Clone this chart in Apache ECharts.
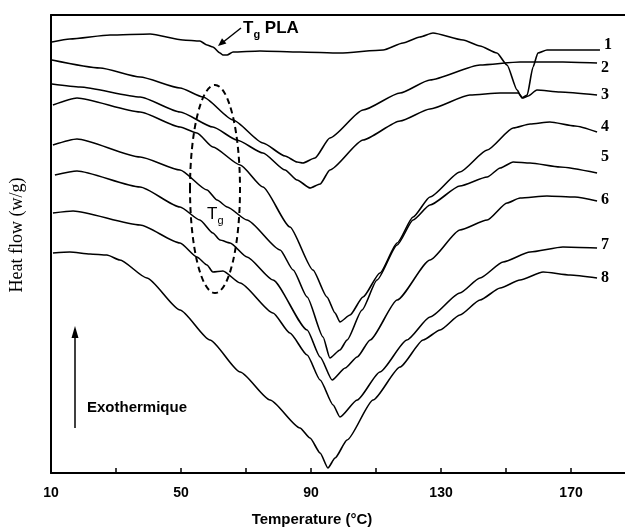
<!DOCTYPE html>
<html>
<head>
<meta charset="utf-8">
<script src="https://cdn.jsdelivr.net/npm/echarts@6/dist/echarts.min.js"></script>
<style>
  html, body { margin: 0; padding: 0; background: #fff; }
  #chart { width: 625px; height: 530px; }
</style>
</head>
<body>
<div id="chart"></div>
<script>
// DSC curves, [temperature °C, heat flow (arbitrary, exo up)]
const curve1 = [[10.3,4.31],[15.8,4.34],[28.2,4.38],[40.5,4.39],[50.6,4.33],[55.8,4.32],[58.0,4.28],[59.8,4.26],[62.0,4.20],[62.9,4.18],[64.2,4.18],[66.0,4.21],[74.3,4.22],[86.6,4.21],[98.9,4.20],[112.2,4.23],[118.3,4.30],[123.5,4.36],[127.5,4.40],[136.8,4.33],[142.0,4.27],[147.2,4.20],[150.3,4.08],[153.4,3.83],[154.9,3.75],[156.5,3.78],[158.3,4.06],[159.8,4.20],[162.6,4.23],[169.7,4.23],[178.9,4.23]];
const curve2 = [[10.3,4.13],[25.1,4.05],[37.4,3.96],[49.7,3.85],[56.8,3.76],[66.0,3.53],[75.2,3.30],[82.0,3.17],[85.7,3.11],[87.5,3.10],[91.2,3.15],[95.8,3.35],[106.0,3.63],[117.4,3.80],[126.6,3.93],[142.0,4.08],[154.3,4.11],[167.5,4.11],[178.0,4.10]];
const curve3 = [[10.3,3.89],[18.9,3.86],[37.4,3.76],[49.7,3.61],[59.8,3.46],[67.2,3.33],[75.2,3.20],[82.0,3.03],[85.7,2.93],[89.7,2.85],[92.8,2.89],[95.8,3.03],[106.0,3.33],[117.4,3.52],[126.6,3.64],[138.9,3.78],[148.2,3.80],[153.7,3.80],[155.2,3.75],[156.8,3.77],[159.5,3.83],[166.6,3.81],[178.0,3.78]];
const curve4 = [[10.6,3.68],[18.0,3.75],[37.4,3.61],[49.7,3.46],[54.9,3.40],[59.8,3.26],[68.2,3.08],[75.2,2.86],[83.5,2.46],[90.6,2.03],[94.9,1.76],[97.4,1.60],[98.9,1.51],[102.0,1.58],[106.0,1.76],[111.2,2.00],[116.5,2.30],[121.4,2.56],[126.6,2.76],[135.8,3.01],[144.2,3.23],[152.2,3.45],[157.4,3.49],[163.5,3.51],[171.2,3.47],[178.0,3.41]];
const curve5 = [[10.6,3.28],[18.0,3.34],[37.4,3.16],[49.7,3.03],[58.0,2.83],[61.1,2.73],[64.2,2.66],[70.3,2.53],[80.5,2.23],[84.5,2.03],[88.8,1.76],[93.7,1.36],[95.8,1.15],[98.9,1.23],[101.1,1.33],[105.7,1.63],[110.3,1.93],[116.5,2.28],[121.4,2.53],[126.6,2.68],[135.8,2.87],[144.2,2.96],[148.2,3.05],[152.2,3.11],[157.4,3.10],[166.6,3.06],[178.0,3.00]];
const curve6 = [[11.2,2.98],[18.0,3.02],[37.4,2.86],[49.7,2.66],[55.8,2.53],[59.8,2.40],[62.0,2.33],[65.1,2.30],[70.3,2.16],[78.3,1.93],[88.8,1.43],[92.8,1.16],[96.5,0.93],[100.5,1.05],[104.2,1.16],[108.2,1.33],[116.5,1.73],[126.6,2.13],[135.8,2.43],[144.2,2.53],[150.3,2.70],[154.3,2.75],[162.6,2.77],[171.2,2.76],[178.0,2.72]];
const curve7 = [[10.6,2.60],[16.8,2.62],[37.4,2.48],[49.7,2.30],[54.9,2.16],[58.0,2.08],[59.8,2.01],[62.9,2.02],[68.2,1.90],[78.3,1.60],[83.5,1.40],[88.8,1.18],[92.8,0.93],[96.8,0.68],[98.9,0.56],[104.2,0.73],[111.2,1.01],[119.5,1.33],[126.6,1.56],[135.8,1.80],[142.0,1.95],[149.1,2.11],[157.4,2.21],[167.5,2.26],[178.0,2.25]];
const curve8 = [[10.6,2.20],[15.8,2.21],[22.0,2.19],[27.2,2.18],[31.2,2.13],[39.5,1.95],[49.7,1.63],[58.9,1.33],[68.2,1.01],[77.4,0.73],[86.6,0.45],[89.7,0.35],[92.8,0.20],[95.2,0.05],[97.4,0.15],[101.1,0.33],[109.1,0.73],[117.4,1.06],[124.5,1.33],[129.7,1.43],[135.8,1.58],[142.0,1.73],[148.2,1.85],[154.3,1.93],[161.4,2.01],[169.7,1.98],[178.0,1.95]];

const curves = [curve1, curve2, curve3, curve4, curve5, curve6, curve7, curve8];
const curveNames = ['1', '2', '3', '4', '5', '6', '7', '8'];
const labelShift = [-5, 5, 0, -5, -16, -1, -3, 0];
const xTickLabels = [10, 50, 90, 130, 170];

const chart = echarts.init(document.getElementById('chart'));

const xMin = 10;
const xMax = 186.6;

const series = curves.map((data, i) => ({
  type: 'line',
  name: curveNames[i],
  data: data,
  showSymbol: false,
  smooth: 0.2,
  smoothMonotone: 'x',
  silent: true,
  lineStyle: { color: '#000', width: 1.6 },
  endLabel: {
    show: true,
    formatter: curveNames[i],
    distance: 4,
    offset: [0, labelShift[i]],
    color: '#000',
    fontFamily: 'Liberation Serif',
    fontWeight: 'bold',
    fontSize: 16
  }
}));

const option = {
  animation: false,
  backgroundColor: '#fff',
  grid: { left: 51, right: 0, top: 15, bottom: 57 },
  xAxis: [
    {
      type: 'value',
      min: xMin,
      max: xMax,
      interval: 20,
      axisLine: { onZero: false, lineStyle: { color: '#000', width: 2 } },
      axisTick: { inside: true, length: 5, lineStyle: { color: '#000', width: 1.5 } },
      axisLabel: {
        showMaxLabel: false,
        formatter: (v) => (xTickLabels.includes(v) ? String(v) : ''),
        color: '#000',
        fontFamily: 'Liberation Sans',
        fontWeight: 'bold',
        fontSize: 14,
        margin: 13
      },
      splitLine: { show: false }
    },
    {
      type: 'value',
      position: 'top',
      min: xMin,
      max: xMax,
      axisLine: { onZero: false, lineStyle: { color: '#000', width: 2 } },
      axisTick: { show: false },
      axisLabel: { show: false },
      splitLine: { show: false }
    }
  ],
  yAxis: {
    type: 'value',
    min: 0,
    max: 4.58,
    axisLine: { show: true, lineStyle: { color: '#000', width: 2 } },
    axisTick: { show: false },
    axisLabel: { show: false },
    splitLine: { show: false }
  },
  series: series,
  graphic: [
    // axis titles
    {
      type: 'text',
      x: 312,
      y: 520,
      style: {
        text: 'Temperature (°C)',
        fill: '#000',
        font: 'bold 15px "Liberation Sans"',
        align: 'center',
        verticalAlign: 'middle'
      }
    },
    {
      type: 'text',
      x: 17,
      y: 235,
      rotation: Math.PI / 2,
      style: {
        text: 'Heat flow (w/g)',
        fill: '#000',
        font: '18px "Liberation Serif"',
        align: 'center',
        verticalAlign: 'middle'
      }
    },
    // Tg PLA annotation
    {
      type: 'line',
      shape: { x1: 241, y1: 28, x2: 222, y2: 43 },
      style: { stroke: '#000', lineWidth: 1.5 }
    },
    {
      type: 'polygon',
      shape: { points: [[218, 46], [226.4, 43.6], [222, 38.2]] },
      style: { fill: '#000' }
    },
    {
      type: 'text',
      left: 243,
      top: 20,
      style: {
        text: '{t|T}{s|g}{t| PLA}',
        fill: '#000',
        rich: {
          t: { fontFamily: 'Liberation Sans', fontWeight: 'bold', fontSize: 17, verticalAlign: 'top', lineHeight: 20 },
          s: { fontFamily: 'Liberation Sans', fontWeight: 'bold', fontSize: 11, verticalAlign: 'top', padding: [9, 0, 0, 0], lineHeight: 20 }
        }
      }
    },
    // dashed ellipse around glass transitions
    {
      type: 'ellipse',
      shape: { cx: 215, cy: 189, rx: 25, ry: 104 },
      style: { fill: 'none', stroke: '#000', lineWidth: 2, lineDash: [6, 4] }
    },
    {
      type: 'text',
      left: 207,
      top: 206,
      style: {
        text: '{t|T}{s|g}',
        fill: '#000',
        rich: {
          t: { fontFamily: 'Liberation Sans', fontSize: 17, verticalAlign: 'top', lineHeight: 20 },
          s: { fontFamily: 'Liberation Sans', fontSize: 11, verticalAlign: 'top', padding: [9, 0, 0, 0], lineHeight: 20 }
        }
      }
    },
    // Exothermique arrow
    {
      type: 'line',
      shape: { x1: 75, y1: 428, x2: 75, y2: 336 },
      style: { stroke: '#000', lineWidth: 1.5 }
    },
    {
      type: 'polygon',
      shape: { points: [[75, 326], [71.5, 338], [78.5, 338]] },
      style: { fill: '#000' }
    },
    {
      type: 'text',
      left: 87,
      top: 400,
      style: {
        text: 'Exothermique',
        fill: '#000',
        font: 'bold 15px "Liberation Sans"'
      }
    }
  ]
};

chart.setOption(option);
</script>
</body>
</html>
